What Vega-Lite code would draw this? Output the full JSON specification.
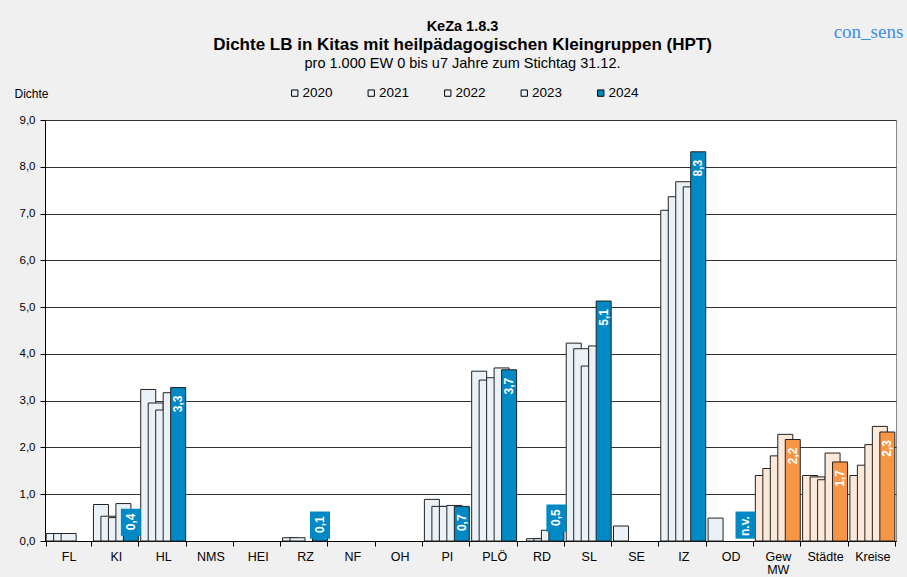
{
  "$schema": "https://vega.github.io/schema/vega-lite/v6.json",
  "width": 851,
  "height": 421,
  "autosize": {"type": "none"},
  "padding": {"left": 45, "top": 120, "right": 11, "bottom": 36},
  "background": "#f0f0f0",
  "title": {
    "text": "KeZa 1.8.3",
    "subtitle": "Dichte LB in Kitas mit heilpädagogischen Kleingruppen (HPT)",
    "fontSize": 14.5,
    "fontWeight": "bold",
    "color": "#000000",
    "subtitleFontSize": 17,
    "subtitleFontWeight": "bold",
    "subtitleColor": "#000000",
    "subtitlePadding": 3,
    "anchor": "middle",
    "offset": -32,
    "dx": -8
  },
  "config": {
    "font": "Liberation Sans",
    "view": {"fill": "white", "stroke": "#888888", "strokeWidth": 1},
    "axis": {"labelColor": "#000000", "titleColor": "#000000", "domainColor": "#000000", "tickColor": "#000000"}
  },
  "data": {
    "values": [
      {"region": "FL", "year": 2020, "value": 0.16},
      {"region": "FL", "year": 2021, "value": 0.16},
      {"region": "FL", "year": 2022, "value": 0.16},
      {"region": "KI", "year": 2020, "value": 0.78},
      {"region": "KI", "year": 2021, "value": 0.53},
      {"region": "KI", "year": 2022, "value": 0.5},
      {"region": "KI", "year": 2023, "value": 0.8},
      {"region": "KI", "year": 2024, "value": 0.41},
      {"region": "HL", "year": 2020, "value": 3.24},
      {"region": "HL", "year": 2021, "value": 2.95},
      {"region": "HL", "year": 2022, "value": 2.8},
      {"region": "HL", "year": 2023, "value": 3.17},
      {"region": "HL", "year": 2024, "value": 3.28},
      {"region": "RZ", "year": 2020, "value": 0.07},
      {"region": "RZ", "year": 2021, "value": 0.07},
      {"region": "RZ", "year": 2024, "value": 0.08},
      {"region": "PI", "year": 2020, "value": 0.89},
      {"region": "PI", "year": 2021, "value": 0.74},
      {"region": "PI", "year": 2022, "value": 0.74},
      {"region": "PI", "year": 2023, "value": 0.76},
      {"region": "PI", "year": 2024, "value": 0.74},
      {"region": "PLÖ", "year": 2020, "value": 3.63},
      {"region": "PLÖ", "year": 2021, "value": 3.44},
      {"region": "PLÖ", "year": 2022, "value": 3.49},
      {"region": "PLÖ", "year": 2023, "value": 3.7},
      {"region": "PLÖ", "year": 2024, "value": 3.66},
      {"region": "RD", "year": 2021, "value": 0.05},
      {"region": "RD", "year": 2022, "value": 0.05},
      {"region": "RD", "year": 2023, "value": 0.23},
      {"region": "RD", "year": 2024, "value": 0.5},
      {"region": "SL", "year": 2020, "value": 4.23},
      {"region": "SL", "year": 2021, "value": 4.11},
      {"region": "SL", "year": 2022, "value": 3.74},
      {"region": "SL", "year": 2023, "value": 4.17},
      {"region": "SL", "year": 2024, "value": 5.13},
      {"region": "SE", "year": 2020, "value": 0.32},
      {"region": "IZ", "year": 2020, "value": 7.07},
      {"region": "IZ", "year": 2021, "value": 7.36},
      {"region": "IZ", "year": 2022, "value": 7.68},
      {"region": "IZ", "year": 2023, "value": 7.57},
      {"region": "IZ", "year": 2024, "value": 8.32},
      {"region": "OD", "year": 2020, "value": 0.49},
      {"region": "OD", "year": 2024, "value": null},
      {"region": "Gew MW", "year": 2020, "value": 1.4},
      {"region": "Gew MW", "year": 2021, "value": 1.55},
      {"region": "Gew MW", "year": 2022, "value": 1.82},
      {"region": "Gew MW", "year": 2023, "value": 2.28},
      {"region": "Gew MW", "year": 2024, "value": 2.17},
      {"region": "Städte", "year": 2020, "value": 1.4},
      {"region": "Städte", "year": 2021, "value": 1.37},
      {"region": "Städte", "year": 2022, "value": 1.31},
      {"region": "Städte", "year": 2023, "value": 1.88},
      {"region": "Städte", "year": 2024, "value": 1.69},
      {"region": "Kreise", "year": 2020, "value": 1.4},
      {"region": "Kreise", "year": 2021, "value": 1.62},
      {"region": "Kreise", "year": 2022, "value": 2.06},
      {"region": "Kreise", "year": 2023, "value": 2.45},
      {"region": "Kreise", "year": 2024, "value": 2.33}
    ]
  },
  "encoding": {
    "x": {
      "field": "region",
      "type": "nominal",
      "scale": {
        "domain": ["FL", "KI", "HL", "NMS", "HEI", "RZ", "NF", "OH", "PI", "PLÖ", "RD", "SL", "SE", "IZ", "OD", "Gew MW", "Städte", "Kreise"],
        "paddingInner": 0.05,
        "paddingOuter": 0.025
      }
    },
    "xOffset": {
      "field": "year",
      "type": "nominal",
      "scale": {"domain": [2020, 2021, 2022, 2023, 2024], "paddingInner": 0, "paddingOuter": 0.5}
    }
  },
  "layer": [
    {
      "mark": {"type": "bar", "width": 15, "stroke": "#222222", "strokeWidth": 1},
      "encoding": {
        "x": {
          "field": "region",
          "type": "nominal",
          "axis": {
            "title": null,
            "labelAngle": 0,
            "labelFontSize": 12.5,
            "labelPadding": 4,
            "labelLineHeight": 13,
            "tickSize": 5,
            "tickBand": "extent",
            "labelExpr": "datum.value == 'Gew MW' ? ['Gew', 'MW'] : datum.value"
          }
        },
        "y": {
          "field": "value",
          "type": "quantitative",
          "scale": {"domain": [0, 9], "nice": false},
          "axis": {
            "values": [0, 1, 2, 3, 4, 5, 6, 7, 8, 9],
            "labelExpr": "replace(format(datum.value, '.1f'), '.', ',')",
            "labelFontSize": 11.5,
            "labelPadding": 5,
            "tickSize": 5,
            "grid": true,
            "gridColor": "#333333",
            "gridWidth": 1,
            "title": "Dichte",
            "titleAngle": 0,
            "titleFontSize": 12,
            "titleFontWeight": "normal",
            "titleAlign": "left",
            "titleBaseline": "alphabetic",
            "titleX": -31,
            "titleY": -23
          }
        },
        "fill": {
          "condition": [
            {"test": "indexof(['Gew MW','Städte','Kreise'], datum.region) >= 0 && datum.year == 2024", "value": "#F79646"},
            {"test": "indexof(['Gew MW','Städte','Kreise'], datum.region) >= 0", "value": "#FDE9D9"}
          ],
          "field": "year",
          "type": "nominal",
          "scale": {"domain": [2020, 2021, 2022, 2023, 2024], "range": ["#EAF2F8", "#EAF2F8", "#EAF2F8", "#EAF2F8", "#0089C4"]},
          "legend": {
            "orient": "none",
            "legendX": 243,
            "legendY": -34,
            "direction": "horizontal",
            "title": null,
            "padding": 0,
            "symbolType": "square",
            "symbolSize": 40,
            "symbolStrokeColor": "#000000",
            "symbolStrokeWidth": 1,
            "labelFontSize": 13.5,
            "labelOffset": 1,
            "columnPadding": 31.5,
            "labelColor": "#000000"
          }
        }
      }
    },
    {
      "transform": [
        {"filter": "datum.year == 2024 && (datum.value == null || datum.value < 0.7) && indexof(['Gew MW','Städte','Kreise'], datum.region) < 0"},
        {"calculate": "max((datum.value || 0) + 0.28, 0.63)", "as": "boxTop"},
        {"calculate": "datum.boxTop - 0.58", "as": "boxBottom"}
      ],
      "mark": {"type": "bar", "width": 20, "fill": "#0089C4"},
      "encoding": {
        "x": {"field": "region", "type": "nominal", "axis": null},
        "y": {"field": "boxTop", "type": "quantitative", "scale": {"domain": [0, 9], "nice": false}, "axis": null},
        "y2": {"field": "boxBottom"}
      }
    },
    {
      "transform": [
        {"filter": "datum.year == 2024"},
        {"calculate": "datum.value == null ? 'n.v.' : replace(format(datum.value, '.1f'), '.', ',')", "as": "label"},
        {"calculate": "(datum.value != null && datum.value >= 0.7) ? datum.value : max((datum.value || 0) + 0.28, 0.63) + 0.07", "as": "ty"}
      ],
      "mark": {"type": "text", "angle": 270, "align": "right", "baseline": "middle", "dx": -8, "fontSize": 12, "fontWeight": "bold", "color": "#ffffff"},
      "encoding": {
        "x": {
          "field": "region",
          "type": "nominal",
          "axis": {
            "orient": "top",
            "labels": false,
            "ticks": false,
            "domain": false,
            "grid": false,
            "title": "pro 1.000 EW 0 bis u7 Jahre zum Stichtag 31.12.",
            "titleFontSize": 14.5,
            "titleFontWeight": "normal",
            "titleAlign": "center",
            "titleBaseline": "alphabetic",
            "titleX": 417,
            "titleY": -53
          }
        },
        "y": {
          "field": "ty",
          "type": "quantitative",
          "scale": {"domain": [0, 9], "nice": false},
          "axis": {
            "orient": "right",
            "labels": false,
            "ticks": false,
            "domain": false,
            "grid": false,
            "title": "con_sens",
            "titleAngle": 0,
            "titleFont": "Liberation Serif",
            "titleFontSize": 19,
            "titleFontWeight": "normal",
            "titleColor": "#3B8EE8",
            "titleAlign": "center",
            "titleBaseline": "alphabetic",
            "titleX": -28,
            "titleY": -83
          }
        },
        "text": {"field": "label", "type": "nominal"}
      }
    }
  ],
  "resolve": {"axis": {"x": "independent", "y": "independent"}}
}
